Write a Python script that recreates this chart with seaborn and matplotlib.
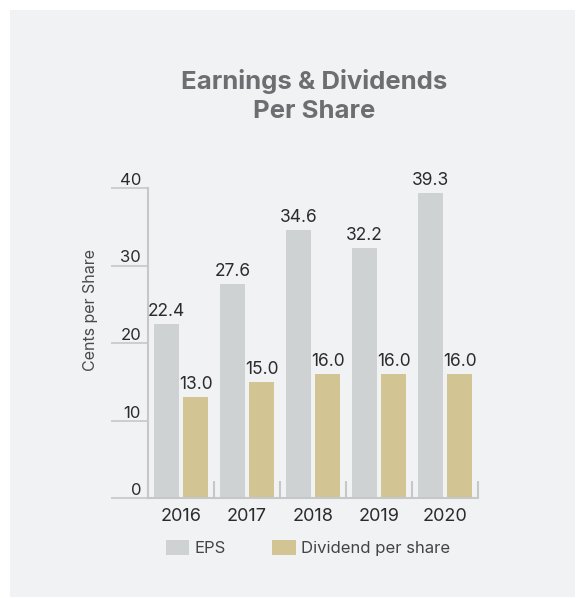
import pandas as pd
import seaborn as sns
import matplotlib.pyplot as plt
from matplotlib.patches import Rectangle

sns.set_style('white')
plt.rcParams['font.family'] = ['Inter', 'DejaVu Sans']

years = ['2016', '2017', '2018', '2019', '2020']
eps = [22.4, 27.6, 34.6, 32.2, 39.3]
dividend = [13.0, 15.0, 16.0, 16.0, 16.0]
series_names = ['EPS', 'Dividend per share']
colors = ['#cfd2d3', '#d2c493']

bg = '#f1f2f4'
line_col = '#c6c7c8'
text_col = '#2b2b2b'

data = pd.DataFrame({
    'year': years * 2,
    'value': eps + dividend,
    'series': [series_names[0]] * 5 + [series_names[1]] * 5,
})

W, H = 577, 598
fig = plt.figure(figsize=(W / 100, H / 100), dpi=100, facecolor='white')
panel = Rectangle((10 / W, 1 - 597 / H), 565 / W, 587 / H,
                  transform=fig.transFigure, facecolor=bg,
                  edgecolor='none', zorder=-10)
fig.add_artist(panel)

ax = fig.add_axes([148 / W, 1 - 498 / H, 330 / W, 310 / H])
ax.set_facecolor('none')

sns.barplot(data=data, x='year', y='value', hue='series', palette=colors,
            saturation=1, width=0.88, gap=0.17, linewidth=0,
            ax=ax, legend=False)

for cont in ax.containers:
    ax.bar_label(cont, fmt='%.1f', padding=3, fontsize=12.5, color=text_col)

ax.set_ylim(0, 40)
ax.set_xlim(-0.5, 4.5)
ax.set_yticks([0, 10, 20, 30, 40])

sns.despine(ax=ax, top=True, right=True)
for s in ['left', 'bottom']:
    ax.spines[s].set_color(line_col)
    ax.spines[s].set_linewidth(1.5)

# y ticks: long lines out to the left, labels sitting on top of them
ax.tick_params(axis='y', left=True, direction='out', length=27, width=1.2,
               color=line_col, pad=-22, labelsize=12, labelcolor=text_col)
for lab in ax.get_yticklabels():
    lab.set_verticalalignment('bottom')

# x: no major tick marks, short separators between years
ax.tick_params(axis='x', length=0, pad=7, labelsize=13, labelcolor=text_col)
ax.set_xticks([-0.5, 0.5, 1.5, 2.5, 3.5, 4.5], minor=True)
ax.tick_params(axis='x', which='minor', bottom=True, direction='in', length=12,
               width=1.5, color=line_col)

ax.set_xlabel('')
ax.set_ylabel('')
fig.text(90 / W, 1 - 310 / H, 'Cents per Share', rotation=90, ha='center',
         va='center', fontsize=11.5, color='#4a4a4a')

fig.text(314 / W, 1 - 96 / H, 'Earnings & Dividends\nPer Share', ha='center',
         va='center', fontsize=18.5, fontweight='bold', color='#6d6e71',
         linespacing=1.3)

handles = [Rectangle((0, 0), 1, 1, facecolor=c, edgecolor='none') for c in colors]
fig.legend(handles, series_names, loc='center', bbox_to_anchor=(308 / W, 1 - 548 / H),
           ncol=2, frameon=False, fontsize=12, labelcolor='#444444',
           handlelength=1.4, handleheight=1.05, handletextpad=0.3,
           columnspacing=2.8)

fig.savefig('out.png', dpi=100, facecolor='white')
